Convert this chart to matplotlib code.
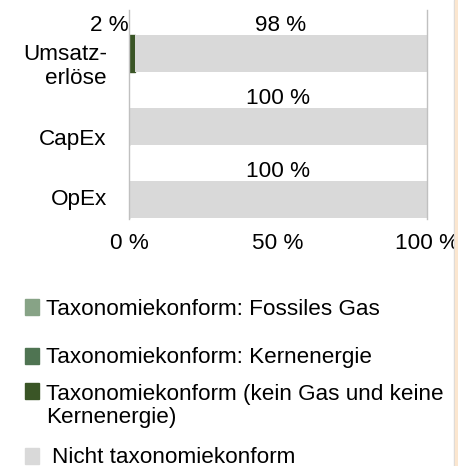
import numpy as np
import matplotlib
matplotlib.use("Agg")
import matplotlib.pyplot as plt
from matplotlib.patches import Rectangle

plt.rcParams['font.family'] = ['Liberation Sans', 'DejaVu Sans']

# Anteile je Kennzahl in %
categories = ['Umsatz-\nerlöse', 'CapEx', 'OpEx']
fossil_gas = [0, 0, 0]
nuclear = [0, 0, 0]
aligned = [2, 0, 0]
not_aligned = [98, 100, 100]

legend_labels = ['Taxonomiekonform: Fossiles Gas',
                 'Taxonomiekonform: Kernenergie',
                 'Taxonomiekonform (kein Gas und keine\nKernenergie)',
                 'Nicht taxonomiekonform']
colors = ['#87a386', '#4f7452', '#3a5526', '#d9d9d9']

W, H = 458, 466
FS = 16.2
fig = plt.figure(figsize=(W / 100, H / 100), dpi=100)
ax = fig.add_axes([129 / W, 1 - 219 / H, 298 / W, 209 / H])

y = np.arange(len(categories))
series = [fossil_gas, nuclear, aligned, not_aligned]
left = np.zeros(len(categories))
for i, vals in enumerate(series):
    vals = np.array(vals, dtype=float)
    lw = 1.0 if i == 2 else 0
    bars = ax.barh(y, vals, left=left, height=0.5, color=colors[i],
                   edgecolor=colors[i], linewidth=lw, zorder=2)
    for b, v, l in zip(bars, vals, left):
        if v <= 0 or i < 2:
            continue
        top = b.get_y()
        if i == 2:
            ax.annotate(f'{v:.0f} %', (0, top), xytext=(0, 7),
                        textcoords='offset points', ha='right', va='center',
                        fontsize=FS)
        else:
            ax.annotate(f'{v:.0f} %', (l + v / 2, top), xytext=(0, 7),
                        textcoords='offset points', ha='center', va='center',
                        fontsize=FS)
    left += vals

ax.set_xlim(0, 100)
ax.set_ylim(2.267, -0.596)
ax.set_xticks([0, 50, 100], ['0 %', '50 %', '100 %'])
ax.set_yticks(y + np.array([0.12, 0.15, -0.03]), categories)
ax.tick_params(axis='both', length=0, labelsize=FS)
ax.tick_params(axis='x', pad=10)
ax.tick_params(axis='y', pad=16)
for lab in ax.get_yticklabels():
    lab.set_multialignment('right')
for s in ['top', 'bottom']:
    ax.spines[s].set_visible(False)
for s in ['left', 'right']:
    ax.spines[s].set_color('#c0c0c0')
    ax.spines[s].set_linewidth(1)

# Legende unterhalb des Diagramms (Grundlinie jeweils der letzten Zeile)
sq_top = [299, 348, 383, 448]
baselines = [315, 363, 423, 463]
text_x = [46, 46, 46, 52]
for c, lab, t, b, tx in zip(colors, legend_labels, sq_top, baselines, text_x):
    fig.add_artist(Rectangle((25 / W, 1 - (t + 16) / H), 14 / W, 16 / H,
                             color=c, transform=fig.transFigure))
    fig.text(tx / W, 1 - b / H, lab, fontsize=FS, va='baseline', ha='left',
             linespacing=1.15)

# Randstreifen rechts
fig.add_artist(Rectangle((454 / W, 0), 1 / W, 1, color='#d9d9d9',
                         transform=fig.transFigure))
fig.add_artist(Rectangle((455 / W, 0), 3 / W, 1, color='#fbe6cf',
                         transform=fig.transFigure))

fig.savefig('out.png', dpi=100)
